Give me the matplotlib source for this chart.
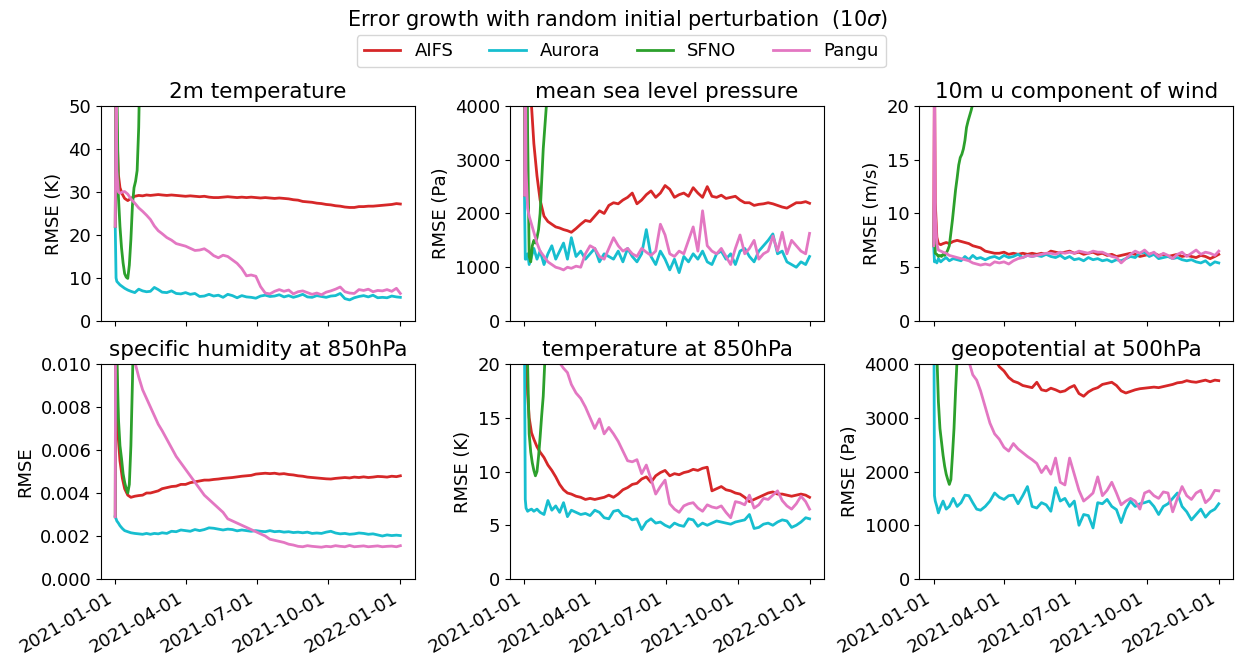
import matplotlib
matplotlib.use('Agg')
from matplotlib import pyplot as plt
import matplotlib.dates as mdates
import pandas as pd

# forecast lead days (sampled from the plot)
DAYS = [0, 1, 2, 4, 6, 9, 12, 16, 20, 25, 30, 35, 40, 45, 50, 55, 60,
        66, 72, 78, 84, 90, 96, 102, 108, 114, 120,
        126, 132, 138, 144, 150, 156, 162, 168, 174, 180,
        186, 192, 198, 204, 210, 216, 222, 228, 234, 240,
        246, 252, 258, 264, 270, 276, 282, 288, 294, 300,
        306, 312, 318, 324, 330, 336, 342, 348, 354, 360,
        365]
SFNO_DAYS = [0, 1, 2, 4, 6, 8, 10, 12, 14, 16, 18, 20, 22, 24, 26, 28, 30,
             32, 34, 36, 38, 40, 42, 44, 46, 48, 50, 52]

# 2m temperature
t2m_aifs = [22, 70, 45, 34, 31, 29.5, 28.5, 28.0, 28.5, 29.0, 29.2, 29.1, 29.3, 29.2, 29.3, 29.4, 29.3,
            29.2, 29.3, 29.2, 29.1, 29.0, 29.1, 29.0, 28.9, 29.0, 28.8,
            28.7, 28.7, 28.8, 28.9, 28.8, 28.7, 28.8, 28.7, 28.8, 28.7,
            28.6, 28.7, 28.6, 28.5, 28.6, 28.5, 28.4, 28.2, 28.1, 27.8,
            27.7, 27.6, 27.4, 27.3, 27.1, 27.0, 26.8, 26.7, 26.5, 26.4,
            26.4, 26.6, 26.6, 26.7, 26.7, 26.8, 26.9, 27.0, 27.1, 27.3,
            27.2]
t2m_aurora = [21.6, 10.0, 9.2, 8.8, 8.4, 8.0, 7.6, 7.2, 6.9, 6.6, 7.4, 7.0, 6.8, 6.9, 7.8, 7.3, 6.7,
              6.6, 7.0, 6.4, 6.3, 6.6, 6.2, 6.4, 5.7, 5.8, 6.2,
              5.8, 6.0, 5.5, 6.2, 5.9, 5.4, 5.9, 5.6, 5.5, 5.3,
              5.8, 6.0, 5.7, 5.8, 6.1, 5.6, 5.9, 5.5, 5.8, 6.2,
              5.6, 5.5, 5.9, 5.7, 5.5, 5.8, 5.9, 6.4, 5.2, 4.9,
              5.4, 5.7, 5.9, 5.6, 6.0, 5.4, 5.5, 5.4, 5.8, 5.6,
              5.5]
t2m_pangu = [22, 60, 35, 30, 29.7, 30.0, 30.1, 29.5, 28.4, 27.4, 26.3, 25.5, 24.6, 23.6, 22.1, 21.0, 20.3,
             19.4, 18.8, 18.0, 17.7, 17.4, 16.9, 16.4, 16.5, 16.8, 16.1,
             15.2, 14.7, 15.3, 15.0, 14.2, 13.4, 12.2, 10.5, 10.7, 10.4,
             8.0, 6.5, 6.3, 6.9, 7.3, 6.9, 7.2, 6.3, 6.8, 7.0,
             6.6, 6.2, 6.5, 6.1, 6.7, 7.0, 7.4, 7.9, 6.8, 6.5,
             6.4, 7.3, 7.1, 7.4, 6.8, 7.1, 7.0, 7.3, 6.9, 7.6,
             6.4]
t2m_sfno = [22, 80, 55, 29, 22, 17, 13.5, 11, 10.2, 9.9, 13, 19, 27, 31, 32.5, 35, 45,
            65, 90, 120, 150, 180, 200, 220, 240, 260, 280, 300]

# mean sea level pressure
msl_aifs = [2340, 9000, 7000, 5500, 4700, 4000, 3300, 2700, 2250, 1950, 1850, 1800, 1750, 1730, 1700, 1680, 1650,
            1720, 1800, 1870, 1850, 1950, 2050, 2000, 2150, 2200, 2180,
            2250, 2300, 2380, 2180, 2250, 2350, 2420, 2300, 2380, 2520,
            2450, 2300, 2350, 2380, 2320, 2480, 2380, 2300, 2500, 2320,
            2300, 2340, 2280, 2300, 2320, 2250, 2200, 2200, 2150, 2170,
            2180, 2200, 2180, 2150, 2120, 2100, 2150, 2200, 2200, 2220,
            2190]
msl_aurora = [2340, 1150, 1150, 1250, 1050, 1200, 1350, 1150, 1300, 1050, 1250, 1400, 1150, 1300, 1450, 1150, 1550,
              1200, 1300, 1150, 1250, 1350, 1100, 1250, 1200, 1150, 1300,
              1100, 1350, 1200, 1100, 1250, 1700, 1200, 1050, 1300, 1150,
              950, 1150, 900, 1200, 1100, 1250, 1150, 1300, 1100, 1050,
              1250, 1300, 1150, 1250, 1050, 1300, 1350, 1200, 1100, 1300,
              1400, 1500, 1620, 1250, 1300, 1100, 1050, 1000, 1100, 1050,
              1200]
msl_pangu = [2340, 6000, 2800, 2100, 1950, 1800, 1650, 1450, 1300, 1200, 1100, 1050, 1000, 980, 950, 1000, 980,
             1020, 1000, 1250, 1400, 1350, 1200, 1150, 1350, 1550, 1400,
             1300, 1350, 1250, 1200, 1350, 1280, 1220, 1300, 1800, 1600,
             1250, 1200, 1300, 1250, 1500, 1750, 1300, 2050, 1400, 1300,
             1250, 1350, 1200, 1050, 1350, 1600, 1250, 1350, 1500, 1150,
             1250, 1300, 1580, 1300, 1650, 1250, 1500, 1400, 1300, 1250,
             1630]
msl_sfno = [2340, 12000, 8000, 3500, 1200, 1100, 1400, 1500, 1450, 1550, 1700, 2000, 2600, 3200, 3600, 4000, 5000,
            6500, 8000, 10000, 12000, 14000, 16000, 18000, 20000, 22000, 24000, 26000]

# 10m u wind
u10_aifs = [7.0, 25, 11, 7.8, 7.2, 7.1, 7.2, 7.3, 7.2, 7.4, 7.5, 7.4, 7.3, 7.2, 7.0, 6.9, 6.8,
            6.5, 6.4, 6.3, 6.3, 6.4, 6.2, 6.3, 6.2, 6.3, 6.2,
            6.3, 6.2, 6.3, 6.2, 6.5, 6.4, 6.3, 6.4, 6.5, 6.3,
            6.4, 6.2, 6.3, 6.4, 6.2, 6.3, 6.1, 6.2, 6.0, 6.1,
            6.2, 6.3, 6.2, 6.0, 6.1, 6.2, 6.3, 6.1, 6.2, 6.0,
            6.1, 6.2, 6.0, 6.1, 6.0, 5.9, 6.1, 6.0, 5.8, 6.0,
            6.2]
u10_aurora = [7.0, 5.5, 5.6, 5.4, 5.8, 5.5, 5.7, 5.9, 5.6, 5.8, 5.7, 5.6, 6.0, 5.7, 6.1, 5.8, 5.9,
              5.7, 5.9, 6.0, 5.8, 6.1, 5.9, 6.0, 6.2, 5.9, 6.1,
              6.0, 6.1, 6.0, 6.2, 6.0, 5.9, 6.1, 5.8, 6.0, 5.7,
              5.8, 5.6, 5.9, 5.7, 5.8, 5.6, 5.7, 5.5, 5.7, 5.6,
              5.8, 6.0, 5.9, 6.3, 6.4, 6.0, 6.2, 5.8, 5.9, 6.0,
              5.8, 5.9, 5.7, 5.6, 5.7, 5.5, 5.4, 5.6, 5.2, 5.5,
              5.4]
u10_pangu = [7.0, 22, 10, 7.2, 6.6, 6.5, 6.4, 6.3, 6.1, 6.0, 5.9, 5.8, 5.7, 5.6, 5.4, 5.3, 5.2,
             5.3, 5.2, 5.5, 5.4, 5.5, 5.3, 5.6, 5.8, 5.9, 6.1,
             6.0, 6.1, 6.2, 6.3, 6.3, 6.2, 6.4, 6.3, 6.4, 6.3,
             6.5, 6.4, 6.3, 6.5, 6.4, 6.4, 6.2, 6.0, 5.9, 5.4,
             5.8, 6.2, 6.5, 6.3, 6.6, 6.2, 6.4, 6.0, 6.3, 6.1,
             5.8, 6.2, 6.4, 6.0, 6.3, 6.6, 6.2, 6.4, 6.3, 6.1,
             6.5]
u10_sfno = [7.0, 12, 6.3, 6.2, 6.0, 6.1, 6.0, 6.2, 6.1, 6.3, 6.6, 7.0, 8.2, 9.4, 10.8, 12.2, 13.3,
            14.5, 15.2, 15.5, 16.0, 16.8, 18.0, 18.6, 19.1, 19.6, 20.2, 21.0]

# specific humidity 850hPa
q850_aifs = [0.0029, 0.02, 0.0095, 0.0065, 0.0055, 0.0047, 0.0042, 0.0039, 0.0038, 0.00385, 0.00388, 0.0039,
             0.0040, 0.0040, 0.00405, 0.0041, 0.0042,
             0.00425, 0.0043, 0.00432, 0.0044, 0.0044, 0.00448, 0.00452, 0.00456, 0.0046, 0.0046,
             0.00463, 0.00465, 0.00468, 0.0047, 0.00472, 0.00475, 0.00478, 0.0048, 0.00482, 0.00488,
             0.0049, 0.00492, 0.0049, 0.00492, 0.00488, 0.0049, 0.00486, 0.00484, 0.0048, 0.00478,
             0.00474, 0.00472, 0.0047, 0.00468, 0.00466, 0.00465, 0.00468, 0.0047, 0.00472, 0.0047,
             0.00474, 0.00472, 0.00475, 0.00472, 0.00474, 0.00477, 0.00476, 0.00474, 0.00478, 0.00476,
             0.0048]
q850_aurora = [0.0029, 0.0028, 0.0027, 0.0026, 0.00248, 0.00235, 0.00225, 0.0022, 0.00215, 0.00212, 0.0021,
               0.00208, 0.00212, 0.00208, 0.00212, 0.0021, 0.00215,
               0.00212, 0.00222, 0.0022, 0.00228, 0.00225, 0.00222, 0.0023, 0.00225, 0.0023, 0.00238,
               0.00236, 0.00232, 0.00228, 0.00232, 0.0023, 0.00224, 0.00228, 0.00225, 0.00222, 0.00225,
               0.00222, 0.0022, 0.00225, 0.0022, 0.00222, 0.00218, 0.0022, 0.00216, 0.00218, 0.00215,
               0.00218, 0.00212, 0.00214, 0.00212, 0.00218, 0.00222, 0.00214, 0.0021, 0.00212, 0.00208,
               0.0021, 0.00214, 0.00212, 0.00208, 0.0021, 0.00205, 0.002, 0.00205, 0.00202, 0.00204,
               0.00202]
q850_pangu = [0.0029, 0.03, 0.025, 0.02, 0.017, 0.015, 0.0135, 0.012, 0.011, 0.0101, 0.0094, 0.0088,
              0.0084, 0.008, 0.0076, 0.0072, 0.0069,
              0.0065, 0.0061, 0.0057, 0.0054, 0.0051, 0.0048, 0.0045, 0.0042, 0.0039, 0.0037,
              0.0035, 0.0033, 0.0031, 0.0028, 0.0027, 0.0026, 0.0025, 0.0024, 0.0023, 0.0022,
              0.0021, 0.0020, 0.00185, 0.0018, 0.00175, 0.0017, 0.00162, 0.00158, 0.00152, 0.0015,
              0.00155, 0.00152, 0.0015, 0.00148, 0.00152, 0.0015, 0.00155, 0.00152, 0.0015, 0.00156,
              0.0015, 0.00152, 0.00154, 0.0015, 0.00152, 0.00154, 0.0015, 0.00152, 0.00153, 0.0015,
              0.00155]
q850_sfno = [0.0029, 0.03, 0.0105, 0.0075, 0.0062, 0.0056, 0.0049, 0.0045, 0.0042, 0.0040, 0.0044, 0.0062,
             0.0092, 0.013, 0.02, 0.03, 0.04, 0.05, 0.06, 0.07, 0.08, 0.09, 0.1, 0.11, 0.12, 0.13, 0.14, 0.15]

# temperature 850hPa
t850_aifs = [22, 40, 22, 17.2, 15.0, 13.6, 13.0, 12.3, 11.8, 11.3, 10.6, 10.1, 9.5, 8.8, 8.3, 8.0, 7.9,
             7.7, 7.6, 7.4, 7.5, 7.4, 7.5, 7.6, 7.8, 7.6, 7.9,
             8.3, 8.5, 8.8, 8.9, 9.3, 9.5, 9.0, 9.6, 9.9, 10.1,
             9.6, 9.8, 9.7, 9.9, 10.0, 10.2, 10.1, 10.3, 10.4, 8.2,
             8.4, 8.6, 8.3, 8.2, 8.0, 7.9, 7.6, 7.2, 7.4, 7.6,
             7.8, 8.0, 8.1, 7.9, 7.9, 7.8, 7.7, 7.8, 7.9, 7.8,
             7.6]
t850_aurora = [22, 7.4, 6.6, 6.3, 6.4, 6.5, 6.3, 6.5, 6.2, 6.0, 7.3, 6.4, 6.8, 6.2, 7.1, 5.8, 6.4,
               6.2, 6.0, 6.1, 5.9, 6.4, 6.2, 5.7, 5.6, 6.3, 6.4,
               5.9, 5.8, 5.5, 5.6, 4.6, 5.3, 5.6, 5.2, 5.3, 5.0,
               4.8, 5.2, 5.0, 4.9, 5.6, 5.5, 4.9, 5.2, 5.0, 5.2,
               5.4, 5.3, 5.2, 5.1, 5.3, 5.4, 5.5, 6.0, 4.7, 4.8,
               5.1, 5.2, 5.0, 5.3, 5.5, 5.4, 4.8, 5.0, 5.3, 5.7,
               5.6]
t850_pangu = [22, 60, 40, 35, 32, 30, 28, 26.5, 25, 24, 23, 22, 21, 20.1, 19.6, 19.2, 18.1,
              17.3, 16.8, 16.0, 15.0, 14.0, 14.9, 13.5, 14.1, 13.5, 12.8,
              11.9, 11.0, 10.9, 11.1, 9.8, 10.6, 9.3, 7.9, 8.6, 9.2,
              7.0, 6.5, 6.2, 6.8, 7.0, 7.1, 6.6, 6.3, 6.9, 6.7,
              6.6, 6.8, 6.2, 5.7, 7.2, 7.1, 6.9, 7.8, 6.6, 6.9,
              7.5, 7.4, 7.8, 8.2, 7.3, 6.8, 6.5, 7.0, 7.7, 7.2,
              6.5]
t850_sfno = [22, 60, 30, 20, 13.5, 11.8, 10.8, 10.1, 9.6, 10.0, 11.4, 13.2, 15.2, 17.0, 20.2, 25, 30,
             35, 40, 45, 50, 55, 60, 65, 70, 75, 80, 85]

# geopotential 500hPa
z500_aifs = [6000, 20000, 15000, 12000, 10000, 9000, 8200, 7500, 7000, 6500, 6100, 5800, 5500, 5200, 5000, 4800, 4600,
             4450, 4300, 4100, 3950, 3870, 3750, 3680, 3650, 3600, 3580,
             3560, 3660, 3520, 3500, 3550, 3520, 3480, 3500, 3560, 3600,
             3450, 3400, 3480, 3530, 3560, 3620, 3640, 3660, 3600, 3500,
             3460, 3490, 3520, 3540, 3550, 3560, 3570, 3560, 3580, 3600,
             3620, 3650, 3660, 3690, 3670, 3660, 3680, 3700, 3670, 3700,
             3690]
z500_aurora = [6000, 1550, 1450, 1350, 1230, 1350, 1450, 1300, 1350, 1500, 1350, 1420, 1560, 1550, 1420, 1300, 1280,
               1350, 1450, 1600, 1520, 1480, 1550, 1560, 1400, 1550, 1720,
               1350, 1320, 1420, 1380, 1260, 1700, 1450, 1500, 1350, 1450,
               1000, 1200, 1180, 950, 1420, 1400, 1480, 1350, 1290, 1050,
               1300, 1450, 1350, 1400, 1420, 1450, 1350, 1200, 1350, 1400,
               1500, 1600, 1350, 1250, 1100, 1200, 1300, 1150, 1250, 1300,
               1400]
z500_pangu = [6000, 20000, 15000, 12000, 10000, 8500, 7500, 6800, 6200, 5700, 5200, 4800, 4400, 4050, 3800, 3700, 3500,
              3200, 2900, 2700, 2600, 2450, 2380, 2520, 2420, 2350, 2280,
              2220, 2150, 1980, 2100, 1950, 2250, 1800, 1750, 2250, 1950,
              1650, 1450, 1520, 1600, 1900, 1550, 1650, 1800, 1600, 1380,
              1450, 1500, 1450, 1300, 1600, 1640, 1550, 1500, 1620, 1600,
              1250, 1500, 1720, 1550, 1480, 1600, 1650, 1420, 1500, 1650,
              1640]
z500_sfno = [6000, 20000, 8000, 4200, 3300, 2800, 2550, 2300, 2100, 1950, 1850, 1760, 1850, 2300, 2800, 3500, 4100,
             5000, 6000, 7000, 8000, 9000, 10000, 11000, 12000, 13000, 14000, 15000]

titles = ['2m temperature', 'mean sea level pressure', '10m u component of wind',
          'specific humidity at 850hPa', 'temperature at 850hPa', 'geopotential at 500hPa']
ylabels = ['RMSE (K)', 'RMSE (Pa)', 'RMSE (m/s)', 'RMSE', 'RMSE (K)', 'RMSE (Pa)']
ylims = [(0, 50), (0, 4000), (0, 20), (0, 0.01), (0, 20), (0, 4000)]
xtick_labels = ['2021-01-01', '2021-04-01', '2021-07-01', '2021-10-01', '2022-01-01']

panels = [
    (t2m_aifs, t2m_aurora, t2m_sfno, t2m_pangu),
    (msl_aifs, msl_aurora, msl_sfno, msl_pangu),
    (u10_aifs, u10_aurora, u10_sfno, u10_pangu),
    (q850_aifs, q850_aurora, q850_sfno, q850_pangu),
    (t850_aifs, t850_aurora, t850_sfno, t850_pangu),
    (z500_aifs, z500_aurora, z500_sfno, z500_pangu),
]

start = pd.Timestamp('2021-01-01')
dates = start + pd.to_timedelta(DAYS, unit='D')
sfno_dates = start + pd.to_timedelta(SFNO_DAYS, unit='D')

fig, axes = plt.subplots(2, 3, figsize=(12.35, 6.64), dpi=100, sharex=True)
fig.subplots_adjust(left=0.0818, right=0.9984, top=0.8404, bottom=0.128,
                    wspace=0.305, hspace=0.2)

for i, ax in enumerate(axes.flat):
    aifs, aurora, sfno, pangu = panels[i]
    ax.plot(dates, aifs, color='tab:red', lw=2, label='AIFS')
    ax.plot(dates, aurora, color='tab:cyan', lw=2, label='Aurora')
    ax.plot(sfno_dates, sfno, color='tab:green', lw=2, label='SFNO')
    ax.plot(dates, pangu, color='tab:pink', lw=2, label='Pangu')
    ax.set_ylim(*ylims[i])
    ax.set_title(titles[i], fontsize=15.5)
    ax.set_ylabel(ylabels[i], fontsize=13)
    ax.tick_params(labelsize=13)
    ax.set_xticks(pd.to_datetime(xtick_labels))
    ax.xaxis.set_major_formatter(mdates.DateFormatter('%Y-%m-%d'))

axes[1, 0].yaxis.set_major_formatter(matplotlib.ticker.FormatStrFormatter('%.3f'))
for ax in axes[1]:
    plt.setp(ax.get_xticklabels(), rotation=30, ha='right')

handles, labels = axes[0, 0].get_legend_handles_labels()
fig.legend(handles, labels, loc='upper center', ncol=4, fontsize=13,
           bbox_to_anchor=(0.503, 0.961))
fig.suptitle('Error growth with random initial perturbation  (10$\\sigma$)',
             fontsize=15, y=0.988)

fig.savefig('out.png', dpi=100)
